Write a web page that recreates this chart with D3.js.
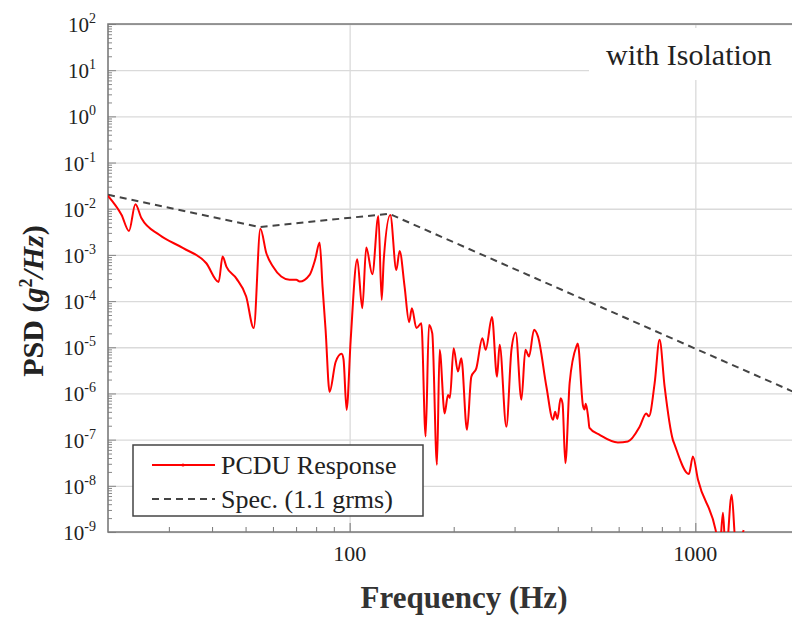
<!DOCTYPE html>
<html>
<head>
<meta charset="utf-8">
<script src="https://cdn.jsdelivr.net/npm/d3@7"></script>
<style>
  body { margin: 0; background: #fff; }
  text { font-family: "Liberation Serif", "Times New Roman", serif; fill: #222; }
</style>
</head>
<body>
<div class="chart"></div>
<script>
// PSD response of the PCDU
var respFreq = [20, 21.9, 23.0, 24.0, 25.0, 28.2, 33.0, 38.5, 41.8, 42.9, 44.0, 47.0, 50.2, 52.8,
  55.2, 57.4, 60.0, 63.4, 67.0, 70.1, 71.7, 76.6, 79.5, 81.9, 83.5, 85.2, 87.5, 91.1, 94.8, 96.0,
  98.0, 100.7, 105.2, 108.8, 111.7, 116.3, 121.1, 123.8, 125.5, 131.1, 136.5, 139.5, 144.2, 148.6,
  151.4, 156, 161.2, 165.9, 169.6, 173.4, 178.9, 182.1, 188.3, 192.5, 195, 199.9, 205.7, 210.4,
  218.5, 224.9, 232.5, 242.1, 247.5, 258.1, 266.9, 271.6, 284, 293.8, 302.3, 314, 322.4, 330.3,
  341.5, 350.7, 370.9, 387.5, 393, 399, 407.7, 413, 420.7, 432.9, 452.7, 457, 473, 478, 482, 490,
  494, 528.7, 597, 638, 690, 721, 734, 762.6, 788, 815, 861, 870, 958, 984, 1018, 1145, 1175,
  1202, 1225, 1274, 1310, 1380];
var respPsd = [1.9e-2, 7.3e-3, 3.3e-3, 1.25e-2, 6.2e-3, 2.7e-3, 1.4e-3, 6.6e-4, 2.6e-4, 9.2e-4, 5.6e-4, 3.1e-4, 1.26e-4, 2.6e-5,
  3.7e-3, 1.1e-3, 5.6e-4, 3.4e-4, 2.9e-4, 2.9e-4, 2.65e-4, 3.7e-4, 8e-4, 1.85e-3, 2e-4, 2.4e-5, 1.08e-6, 4.8e-6, 7.2e-6, 5.5e-6,
  4.4e-7, 1.45e-5, 8.1e-4, 7.0e-5, 1.44e-3, 3.8e-4, 7.0e-3, 1.06e-4, 7.8e-4, 7.3e-3, 4.7e-4, 1.22e-3, 2.06e-4, 3.5e-5,
  7.0e-5, 2.6e-5, 3.3e-5, 1.17e-7, 3.05e-5, 2.0e-5, 2.85e-8, 8.8e-6, 3.7e-7, 9.3e-7, 8e-7, 9.5e-6, 3.0e-6, 5.8e-6,
  1.63e-7, 2.3e-6, 3.5e-6, 1.57e-5, 8.8e-6, 4.5e-5, 2.3e-6, 1.13e-5, 1.9e-7, 8.8e-6, 2.1e-5, 7.3e-7, 8.8e-6, 6.3e-6,
  2.4e-5, 1.7e-5, 1.4e-6, 2.7e-7, 4e-7, 2.8e-7, 7.9e-7, 6e-7, 3.1e-8, 1.67e-6, 1.04e-5, 1.2e-5, 5.5e-7, 4.5e-7, 6e-7, 3e-7,
  1.8e-7, 1.27e-7, 8.7e-8, 9.1e-8, 1.9e-7, 3.7e-7, 3.2e-7, 1.67e-6, 1.45e-5, 1.4e-6, 9.9e-8, 8e-8, 1.8e-8, 4.3e-8, 1.35e-8, 1.1e-9, 4e-10,
  2.6e-9, 3e-10, 6.4e-9, 5e-10, 1.1e-9];

// test spec (1.1 grms) breakpoints
var specFreq = [20, 55, 130, 2000];
var specPsd = [0.02, 0.004, 0.0078, 9.5e-7];

// axis ticks
var yExponents = [2, 1, 0, -1, -2, -3, -4, -5, -6, -7, -8, -9];
var xTickValues = [100, 1000];
var xTickLabels = ["100", "1000"];

var legendLabels = ["PCDU Response", "Spec. (1.1 grms)"];

var svgWidth = 792;
var svgHeight = 626;
var margin = { top: 24, left: 108, bottom: 94 };
var plotRight = 799.4;
var width = plotRight - margin.left;
var height = svgHeight - margin.top - margin.bottom;

var svg = d3.select(".chart")
  .append("svg")
  .attr("width", svgWidth)
  .attr("height", svgHeight);

var chartGroup = svg.append("g")
  .attr("transform", `translate(${margin.left}, ${margin.top})`);

var xScale = d3.scaleLog().domain([20, 2000]).range([0, width]);
var yScale = d3.scaleLog().domain([1e-9, 1e2]).range([height, 0]);

var yMajor = yExponents.map(e => Math.pow(10, e));
var yMinor = [];
yExponents.slice(1).forEach(function (e) {
  for (var k = 2; k <= 9; k++) yMinor.push(k * Math.pow(10, e));
});
var xMinor = [30, 40, 50, 60, 70, 80, 90, 200, 300, 400, 500, 600, 700, 800, 900];

// gridlines
chartGroup.append("g")
  .call(d3.axisLeft(yScale).tickValues(yMajor).tickSize(-width).tickFormat(""))
  .call(g => g.select(".domain").remove())
  .selectAll("line").attr("stroke", "#dadada").attr("stroke-width", 1.3);

chartGroup.append("g")
  .attr("transform", `translate(0, ${height})`)
  .call(d3.axisBottom(xScale).tickValues(xTickValues).tickSize(-height).tickFormat(""))
  .call(g => g.select(".domain").remove())
  .selectAll("line").attr("stroke", "#dadada").attr("stroke-width", 1.3);

// minor ticks pointing inward
chartGroup.append("g")
  .call(d3.axisLeft(yScale).tickValues(yMinor).tickSize(-4).tickFormat(""))
  .call(g => g.select(".domain").remove())
  .selectAll("line").attr("stroke", "#888");

chartGroup.append("g")
  .call(d3.axisLeft(yScale).tickValues(yMajor).tickSize(-8).tickFormat(""))
  .call(g => g.select(".domain").remove())
  .selectAll("line").attr("stroke", "#888");

chartGroup.append("g")
  .attr("transform", `translate(0, ${height})`)
  .call(d3.axisBottom(xScale).tickValues(xMinor).tickSize(-5).tickFormat(""))
  .call(g => g.select(".domain").remove())
  .selectAll("line").attr("stroke", "#777");

chartGroup.append("g")
  .attr("transform", `translate(0, ${height})`)
  .call(d3.axisBottom(xScale).tickValues(xTickValues).tickSize(-9).tickFormat(""))
  .call(g => g.select(".domain").remove())
  .selectAll("line").attr("stroke", "#777");

// frame (right side falls outside the window)
chartGroup.append("path")
  .attr("d", `M${width},0H0V${height}H${width}`)
  .attr("fill", "none")
  .attr("stroke", "#7a7a7a")
  .attr("stroke-width", 1.6);

// y tick labels 10^n
var yLabels = chartGroup.append("g");
yExponents.forEach(function (e) {
  var t = yLabels.append("text")
    .attr("x", -12)
    .attr("y", yScale(Math.pow(10, e)) + 8)
    .attr("text-anchor", "end")
    .style("font-size", "21px");
  t.append("tspan").text("10");
  t.append("tspan")
    .attr("dy", -9)
    .style("font-size", "14px")
    .text(e < 0 ? "-" + (-e) : e);
});

// x tick labels
chartGroup.append("g").selectAll("text")
  .data(xTickValues)
  .enter()
  .append("text")
  .attr("x", d => xScale(d))
  .attr("y", height + 29)
  .attr("text-anchor", "middle")
  .style("font-size", "22px")
  .text((d, i) => xTickLabels[i]);

// clip
chartGroup.append("clipPath")
  .attr("id", "plotclip")
  .append("rect")
  .attr("x", 0).attr("y", 0)
  .attr("width", width).attr("height", height);

var line = d3.line()
  .x(d => xScale(d[0]))
  .y(d => yScale(d[1]));

var smoothLine = d3.line()
  .curve(d3.curveMonotoneX)
  .x(d => xScale(d[0]))
  .y(d => yScale(d[1]));

var specData = specFreq.map((f, i) => [f, specPsd[i]]);
var respData = respFreq.map((f, i) => [f, respPsd[i]]);

chartGroup.append("path")
  .datum(specData)
  .attr("clip-path", "url(#plotclip)")
  .attr("d", line)
  .attr("fill", "none")
  .attr("stroke", "#444")
  .attr("stroke-width", 2)
  .attr("stroke-dasharray", "7,5");

chartGroup.append("path")
  .datum(respData)
  .attr("clip-path", "url(#plotclip)")
  .attr("d", smoothLine)
  .attr("fill", "none")
  .attr("stroke", "#ff0000")
  .attr("stroke-width", 2)
  .attr("stroke-linejoin", "round");

// annotation with white backing
svg.append("rect")
  .attr("x", 589).attr("y", 28)
  .attr("width", 203).attr("height", 52)
  .attr("fill", "#fff");
svg.append("text")
  .attr("x", 606)
  .attr("y", 65)
  .style("font-size", "30px")
  .text("with Isolation");

// legend
var legend = svg.append("g");
legend.append("rect")
  .attr("x", 133).attr("y", 445)
  .attr("width", 290).attr("height", 71)
  .attr("fill", "#fff")
  .attr("stroke", "#444")
  .attr("stroke-width", 1.5);
legend.append("line")
  .attr("x1", 152).attr("x2", 215)
  .attr("y1", 465).attr("y2", 465)
  .attr("stroke", "#ff0000").attr("stroke-width", 2);
legend.append("circle")
  .attr("cx", 183).attr("cy", 465).attr("r", 1.6)
  .attr("fill", "#ff0000");
legend.append("line")
  .attr("x1", 152).attr("x2", 215)
  .attr("y1", 499).attr("y2", 499)
  .attr("stroke", "#444").attr("stroke-width", 2)
  .attr("stroke-dasharray", "7,5");
legend.selectAll("text.lg")
  .data(legendLabels)
  .enter()
  .append("text")
  .attr("class", "lg")
  .attr("x", 221)
  .attr("y", (d, i) => 474 + i * 34)
  .style("font-size", "26px")
  .text(d => d);

// axis titles
svg.append("text")
  .attr("x", 464)
  .attr("y", 608)
  .attr("text-anchor", "middle")
  .style("font-size", "31px")
  .style("font-weight", "bold")
  .style("fill", "#333")
  .text("Frequency (Hz)");

var yTitle = svg.append("text")
  .attr("transform", "translate(43, 301) rotate(-90)")
  .attr("text-anchor", "middle")
  .style("font-size", "30px")
  .style("font-weight", "bold")
  .style("fill", "#222");
yTitle.append("tspan").text("PSD (");
yTitle.append("tspan").style("font-style", "italic").text("g");
yTitle.append("tspan").attr("dy", -11).style("font-size", "18px").text("2");
yTitle.append("tspan").attr("dy", 11).style("font-style", "italic").text("/Hz");
yTitle.append("tspan").text(")");
</script>
</body>
</html>
